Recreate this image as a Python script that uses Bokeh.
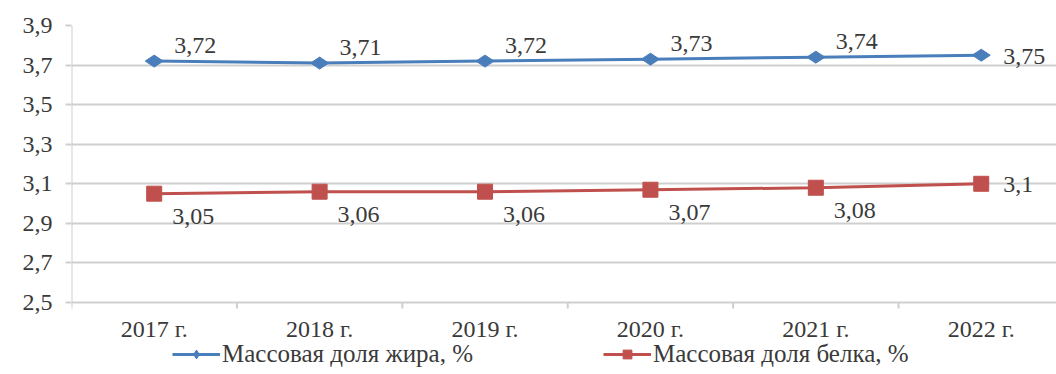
import math
from bokeh.plotting import figure
from bokeh.models import (Range1d, FixedTicker, Legend, LegendItem, ColumnDataSource)
from bokeh.core.properties import value
from bokeh.embed import file_html
from bokeh.resources import INLINE

categories = ["2017 г.", "2018 г.", "2019 г.", "2020 г.", "2021 г.", "2022 г."]
fat = [3.72, 3.71, 3.72, 3.73, 3.74, 3.75]
protein = [3.05, 3.06, 3.06, 3.07, 3.08, 3.1]
fat_name = "Массовая доля жира, %"
protein_name = "Массовая доля белка, %"
y_ticks = [2.5, 2.7, 2.9, 3.1, 3.3, 3.5, 3.7, 3.9]

FONT = "'Liberation Serif', 'Times New Roman', serif"
FS = "24px"
BLUE = "#4a7ebb"
RED = "#c0504d"
TXT = "#3a3a3a"
GRID = "#cfcfcf"

def fmt(v):
    return ("%g" % v).replace(".", ",")

xs = list(range(len(categories)))
Y0, Y1 = y_ticks[0], y_ticks[-1]

# layout in pixels (frame spans full height; x-axis area is drawn inside the frame)
W, H = 1056, 374
LEFT, TOP, AXIS_BOTTOM = 71, 25, 302
per_px = (Y1 - Y0) / (AXIS_BOTTOM - TOP)
y_start = Y0 - (H - AXIS_BOTTOM) * per_px

p = figure(width=W, height=H, output_backend="svg", toolbar_location=None,
           x_range=Range1d(-0.5, 5.455), y_range=Range1d(y_start, Y1),
           min_border_left=LEFT, min_border_right=0, min_border_top=TOP, min_border_bottom=0)
p.outline_line_color = None
p.background_fill_color = "white"
p.border_fill_color = "white"
p.xaxis.visible = False
p.xgrid.grid_line_color = None

# y axis
p.yaxis.ticker = FixedTicker(ticks=y_ticks)
p.yaxis.major_label_overrides = {t: fmt(t) for t in y_ticks}
p.yaxis.axis_line_color = None
p.yaxis.major_tick_line_color = GRID
p.yaxis.major_tick_line_width = 2
p.yaxis.major_tick_out = 6
p.yaxis.major_tick_in = 0
p.yaxis.minor_tick_line_color = None
p.yaxis.major_label_text_font = FONT
p.yaxis.major_label_text_font_size = FS
p.yaxis.major_label_text_color = TXT
p.yaxis.major_label_standoff = 13

p.ygrid.ticker = FixedTicker(ticks=y_ticks)
p.ygrid.grid_line_color = GRID
p.ygrid.grid_line_width = 2

# vertical axis line and category boundary ticks
p.segment(x0=[-0.5], y0=[Y0], x1=[-0.5], y1=[Y1], line_color=GRID, line_width=2)
bounds = [i - 0.5 for i in range(len(categories) + 1)]
p.segment(x0=bounds, y0=[Y0] * len(bounds), x1=bounds,
          y1=[Y0 - 6 * per_px] * len(bounds), line_color=GRID, line_width=2)

# category labels
p.text(x=xs, y=[Y0] * len(xs), text=categories, y_offset=26,
       text_font=value(FONT), text_font_size=FS, text_color=TXT,
       text_align="center", text_baseline="middle")

src = ColumnDataSource(dict(x=xs, fat=fat, protein=protein))

l1 = p.line("x", "fat", source=src, line_color=BLUE, line_width=3)
m1 = p.scatter("x", "fat", source=src, marker="diamond", size=18, angle=math.pi / 2,
               fill_color=BLUE, line_color=BLUE)
l2 = p.line("x", "protein", source=src, line_color=RED, line_width=3)
m2 = p.scatter("x", "protein", source=src, marker="square", size=15,
               fill_color=RED, line_color=RED)

# data labels
lbl = dict(text_font=value(FONT), text_font_size=FS, text_color=TXT,
           text_baseline="middle", text_align="left")
fat_src = ColumnDataSource(dict(x=xs[:-1], y=fat[:-1], t=[fmt(v) for v in fat[:-1]]))
p.text("x", "y", text="t", source=fat_src, x_offset=20, y_offset=-16, **lbl)
p.text([xs[-1]], [fat[-1]], text=[fmt(fat[-1])], x_offset=22, y_offset=1, **lbl)
pr_src = ColumnDataSource(dict(x=xs[:-1], y=protein[:-1], t=[fmt(v) for v in protein[:-1]]))
p.text("x", "y", text="t", source=pr_src, x_offset=18, y_offset=23, **lbl)
p.text([xs[-1]], [protein[-1]], text=[fmt(protein[-1])], x_offset=22, y_offset=1, **lbl)

def make_legend(label, renderers, x):
    lg = Legend(items=[LegendItem(label=label, renderers=renderers)],
                orientation="horizontal", location=(x, 6))
    lg.label_text_font = FONT
    lg.label_text_font_size = "25px"
    lg.label_text_color = TXT
    lg.glyph_width = 48
    lg.glyph_height = 22
    lg.label_height = 22
    lg.label_standoff = 2
    lg.padding = 0
    lg.margin = 0
    lg.border_line_color = None
    lg.background_fill_alpha = 0
    return lg

p.add_layout(make_legend(fat_name, [l1, m1], 172 - LEFT), "center")
p.add_layout(make_legend(protein_name, [l2, m2], 603 - LEFT), "center")

open("out.html", "w").write(file_html(p, INLINE))
